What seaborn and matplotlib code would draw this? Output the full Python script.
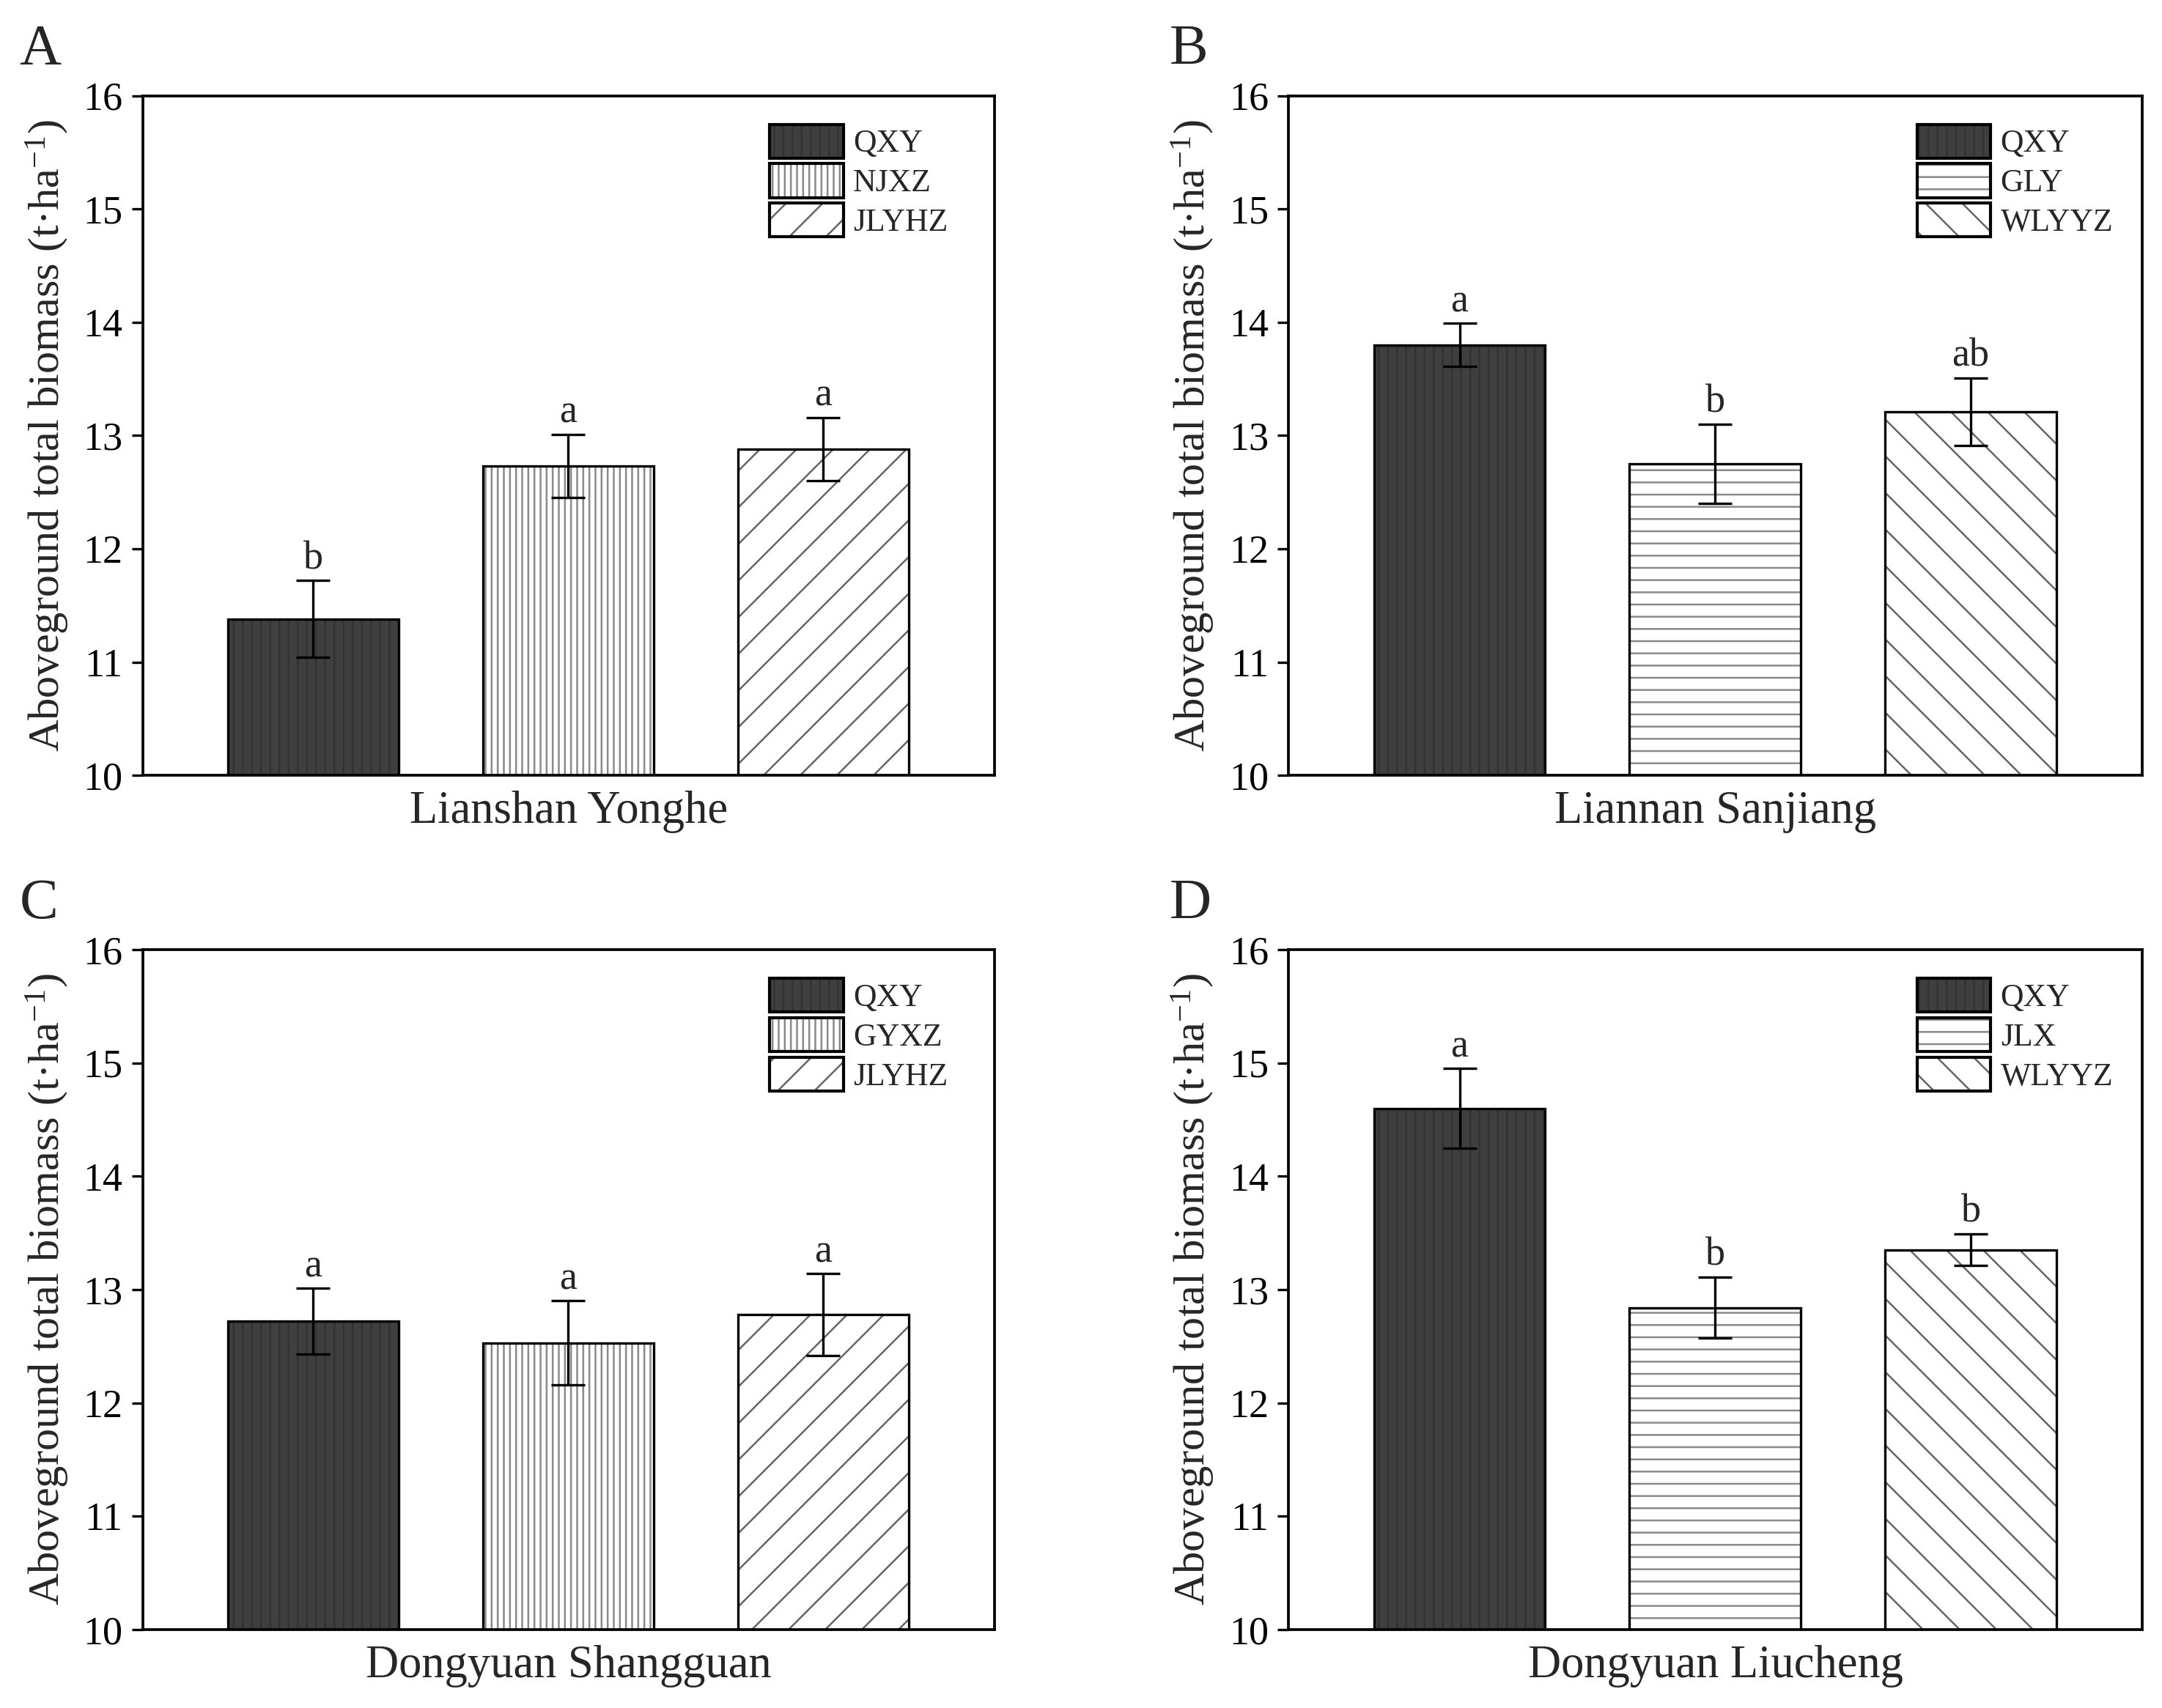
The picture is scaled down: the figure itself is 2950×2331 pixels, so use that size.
import matplotlib.pyplot as plt
import pandas as pd
import seaborn as sns
from matplotlib.legend_handler import HandlerTuple
from matplotlib.patches import Patch, Rectangle

sites = ["Lianshan Yonghe", "Liannan Sanjiang", "Dongyuan Shangguan", "Dongyuan Liucheng"]
panel_letters = ["A", "B", "C", "D"]
cultivars_a = ["QXY", "NJXZ", "JLYHZ"]
cultivars_b = ["QXY", "GLY", "WLYYZ"]
cultivars_c = ["QXY", "GYXZ", "JLYHZ"]
cultivars_d = ["QXY", "JLX", "WLYYZ"]
means_a = [11.38, 12.73, 12.88]
means_b = [13.80, 12.75, 13.21]
means_c = [12.72, 12.53, 12.78]
means_d = [14.60, 12.84, 13.35]
errors_a = [0.34, 0.28, 0.28]
errors_b = [0.19, 0.35, 0.30]
errors_c = [0.29, 0.37, 0.36]
errors_d = [0.35, 0.27, 0.14]
letters_a = ["b", "a", "a"]
letters_b = ["a", "b", "ab"]
letters_c = ["a", "a", "a"]
letters_d = ["a", "b", "b"]

panels = [
    (cultivars_a, means_a, errors_a, letters_a),
    (cultivars_b, means_b, errors_b, letters_b),
    (cultivars_c, means_c, errors_c, letters_c),
    (cultivars_d, means_d, errors_d, letters_d),
]

sns.set_theme(style="ticks")
plt.rcParams["font.family"] = ["Liberation Serif", "DejaVu Serif"]
plt.rcParams["mathtext.fontset"] = "custom"
plt.rcParams["mathtext.rm"] = "Liberation Serif"
plt.rcParams["mathtext.it"] = "Liberation Serif:italic"
plt.rcParams["hatch.linewidth"] = 0.6

dark = "#3f3f3f"
bar_colors = [dark, "white", "white"]
hatch_colors = ["#333333", "#8a8a8a", "#666666"]
hatches_vertical = ["||||", "||||||", "//"]
hatches_horizontal = ["||||", "---", "\\\\"]

fig = plt.figure(figsize=(2950 / 300, 2331 / 300), dpi=300)
positions = [
    [0.066, 0.546, 0.394, 0.398],
    [0.596, 0.546, 0.395, 0.398],
    [0.066, 0.046, 0.394, 0.398],
    [0.596, 0.046, 0.395, 0.398],
]
letter_xy = [(0.009, 0.986), (0.541, 0.986), (0.009, 0.486), (0.541, 0.486)]

for idx, (cultivars, means, errors, letters) in enumerate(panels):
    ax = fig.add_axes(positions[idx])
    hatches = hatches_vertical if idx in (0, 2) else hatches_horizontal
    df = pd.DataFrame({"cultivar": cultivars, "biomass": means})
    sns.barplot(
        data=df, x="cultivar", y="biomass", hue="cultivar",
        palette=bar_colors, width=0.67, errorbar=None, legend=False, ax=ax,
    )
    for patch, hatch, hcol in zip(ax.patches[:3], hatches, hatch_colors):
        patch.set_hatch(hatch)
        patch.set_edgecolor(hcol)
        patch.set_linewidth(0)
        ax.add_patch(Rectangle(
            patch.get_xy(), patch.get_width(), patch.get_height(),
            fill=False, edgecolor="black", linewidth=0.8, zorder=patch.get_zorder() + 0.1,
        ))

    ax.errorbar(range(3), means, yerr=errors, fmt="none", ecolor="black",
                elinewidth=0.8, capsize=5.5, capthick=0.8, zorder=5)
    for i, (m, e, lt) in enumerate(zip(means, errors, letters)):
        ax.annotate(lt, (i, m + e), xytext=(0, 1), textcoords="offset points",
                    ha="center", va="bottom", fontsize=13)

    ax.set_xlim(-0.669, 2.672)
    ax.set_ylim(10, 16)
    ax.set_yticks(range(10, 17))
    ax.set_xticks([])
    ax.set_xlabel(sites[idx], fontsize=15, labelpad=5)
    ax.set_ylabel("Aboveground total biomass (t·ha$^{-1}$)", fontsize=14.5, labelpad=4)
    ax.tick_params(axis="y", labelsize=13, direction="out", length=3.5, width=0.8,
                   color="black", labelcolor="black", pad=3)
    for spine in ax.spines.values():
        spine.set_visible(True)
        spine.set_color("black")
        spine.set_linewidth(0.9)

    handles = []
    for c, hatch, hcol in zip(bar_colors, hatches, hatch_colors):
        handles.append((
            Patch(facecolor=c, edgecolor=hcol, hatch=hatch, linewidth=0),
            Patch(fill=False, edgecolor="black", linewidth=1.0),
        ))
    ax.legend(handles, cultivars, handler_map={tuple: HandlerTuple(ndivide=1, pad=0)},
              loc="upper left", bbox_to_anchor=(0.736, 0.958), frameon=False,
              fontsize=10.5, handlelength=2.3, handleheight=1.25, handletextpad=0.3,
              labelspacing=0.16, borderpad=0, borderaxespad=0)

    fig.text(letter_xy[idx][0], letter_xy[idx][1], panel_letters[idx],
             fontsize=19, va="top", ha="left")

fig.savefig("out.png", dpi=300, facecolor="white")
